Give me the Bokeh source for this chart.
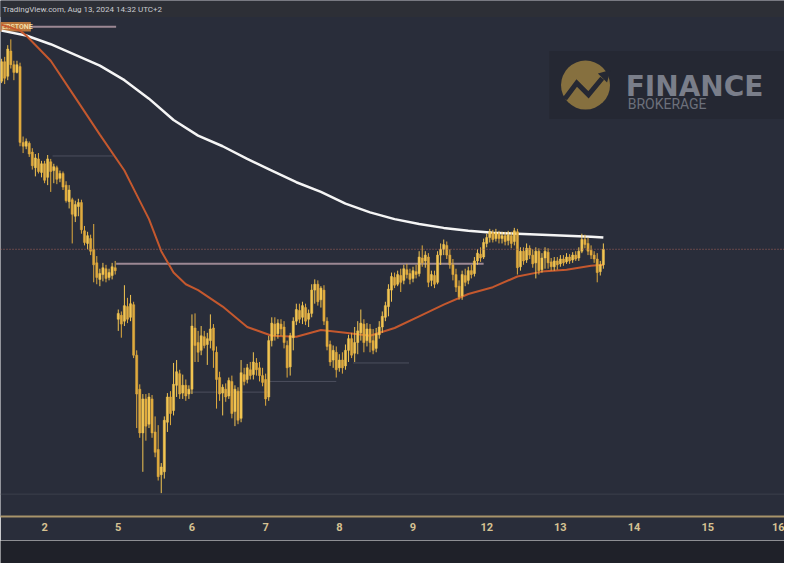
from bokeh.plotting import figure
from bokeh.models import ColumnDataSource, Range1d, FixedTicker, Span
from bokeh.layouts import column
from bokeh.core.properties import value
from bokeh.embed import file_html
from bokeh.resources import INLINE

# Hourly candles (UTC+2), hour 0 = Aug 1 10:00, weekend skipped, last = Aug 13 14:00
opens = [517, 537, 522, 548, 534, 526, 532,
         454, 450, 453, 444, 428, 437, 423, 432, 418, 434, 425, 428, 417, 422, 410, 393, 395, 378, 388, 392, 363, 350, 355, 344, 330, 313, 318, 324, 315, 317, 325,
         272, 276, 270, 285, 274, 287, 235, 200, 155, 190, 164, 190, 156, 138, 112, 115, 166, 192, 178, 204, 216, 196, 204, 195,
         200, 263, 248, 240, 254, 246, 250, 263, 238, 212, 196, 200, 193, 208, 177, 198, 170, 215, 210, 220, 215, 227, 222, 214,
         210, 192, 250, 267, 257, 267, 264, 245, 223, 253, 270, 281, 274, 284, 272, 278, 302, 308, 292, 302, 270, 246, 230, 238,
         222, 230, 224, 240, 252, 237, 248, 258, 267, 250, 262, 250, 242, 256, 264, 274, 285, 302, 315, 308, 317, 312, 323, 319,
         314, 321, 319, 335, 332, 336, 312, 317, 310, 338, 344, 348, 338, 328, 318, 306, 296, 317, 312, 322, 319, 332, 339, 336,
         350, 356, 361, 355, 360, 355, 358, 353, 358, 352, 362, 326, 342, 333, 345, 338, 330, 342, 323, 335, 341, 331, 326, 332,
         329, 334, 331, 336, 333, 338, 335, 342, 354, 350, 343, 338, 334, 321, 328]
closes = [537, 520, 550, 534, 526, 534, 454,
          450, 455, 442, 430, 438, 424, 432, 415, 437, 424, 429, 416, 422, 408, 394, 405, 380, 390, 392, 364, 351, 358, 342, 328, 315, 319, 325, 314, 320, 326, 322,
          278, 267, 286, 272, 288, 235, 195, 155, 190, 162, 192, 155, 135, 110, 120, 168, 192, 175, 205, 218, 195, 204, 193, 200,
          265, 245, 238, 255, 245, 252, 262, 240, 210, 195, 202, 192, 209, 175, 200, 168, 217, 208, 222, 214, 228, 220, 214, 207,
          190, 250, 268, 255, 268, 262, 248, 222, 255, 270, 282, 272, 286, 270, 278, 302, 308, 290, 304, 270, 244, 228, 240, 220,
          230, 222, 240, 252, 235, 248, 260, 268, 248, 262, 248, 240, 257, 264, 275, 286, 303, 316, 307, 318, 310, 324, 318, 313,
          322, 318, 336, 330, 338, 310, 318, 308, 338, 344, 349, 338, 328, 318, 305, 295, 318, 310, 322, 318, 332, 340, 335, 351,
          356, 362, 354, 361, 355, 358, 352, 359, 350, 363, 325, 342, 332, 345, 338, 329, 342, 322, 335, 342, 330, 326, 332, 328,
          334, 330, 336, 332, 338, 334, 342, 354, 349, 342, 338, 334, 320, 328, 344]
highs = [540, 542, 554, 560, 538, 538, 536,
         460, 458, 455, 448, 442, 443, 435, 435, 441, 437, 432, 430, 425, 424, 414, 410, 397, 394, 396, 395, 368, 362, 359, 370, 337, 324, 330, 328, 324, 330, 332,
         282, 280, 307, 294, 297, 290, 240, 205, 195, 195, 196, 194, 172, 163, 124, 172, 196, 198, 227, 230, 220, 215, 210, 204,
         277, 278, 260, 265, 260, 258, 277, 267, 244, 218, 205, 206, 212, 214, 204, 202, 230, 222, 226, 228, 238, 232, 228, 222,
         216, 255, 274, 274, 272, 272, 270, 250, 258, 274, 288, 288, 290, 288, 282, 308, 313, 312, 306, 307, 274, 250, 245, 244,
         236, 238, 246, 256, 258, 264, 270, 282, 272, 268, 267, 262, 263, 270, 280, 290, 308, 320, 320, 322, 324, 328, 329, 324,
         326, 328, 342, 348, 342, 340, 322, 322, 342, 350, 354, 352, 344, 334, 324, 312, 322, 324, 326, 328, 336, 344, 346, 355,
         360, 365, 364, 365, 363, 362, 362, 363, 362, 366, 365, 346, 346, 350, 348, 344, 346, 345, 340, 346, 345, 335, 336, 336,
         338, 338, 340, 339, 341, 342, 346, 360, 359, 356, 348, 342, 340, 332, 350]
lows = [515, 514, 518, 530, 518, 525, 450,
        443, 447, 439, 426, 419, 422, 418, 412, 410, 403, 412, 411, 413, 405, 392, 386, 350, 372, 378, 360, 348, 344, 338, 310, 308, 306, 311, 310, 312, 313, 318,
        260, 253, 265, 268, 270, 232, 160, 150, 115, 147, 160, 150, 130, 106, 93, 108, 156, 163, 173, 192, 190, 190, 188, 190,
        195, 228, 228, 235, 242, 225, 242, 222, 180, 188, 173, 187, 190, 170, 162, 164, 166, 204, 206, 210, 210, 214, 208, 203,
        183, 188, 244, 250, 252, 255, 242, 212, 214, 240, 266, 268, 267, 266, 264, 274, 288, 286, 284, 266, 240, 224, 222, 212,
        218, 216, 220, 228, 232, 228, 236, 250, 238, 244, 238, 236, 238, 252, 258, 270, 275, 290, 304, 306, 300, 308, 314, 308,
        310, 314, 316, 326, 325, 305, 306, 304, 308, 328, 338, 334, 324, 312, 300, 292, 292, 306, 308, 314, 316, 328, 331, 334,
        346, 351, 351, 352, 350, 350, 348, 348, 345, 348, 318, 322, 328, 330, 334, 325, 314, 318, 320, 324, 324, 322, 322, 323,
        326, 327, 329, 329, 330, 332, 332, 340, 345, 338, 334, 330, 310, 317, 324]
hours = list(range(len(opens)))

# Day labels on the time axis (hour index of each day start)
tick_hours = [14, 38, 62, 86, 110, 134, 158, 182, 206, 230, 254]
tick_labels = ["2", "5", "6", "7", "8", "9", "12", "13", "14", "15", "16"]

# Moving averages
ma200_hours = [0, 8, 16, 24, 32, 40, 48, 56, 64, 72, 80, 88, 96, 104, 112, 120, 128, 136, 144, 152, 160, 168, 176, 184, 192, 196]
ma200_vals = [569, 564, 555, 544, 533, 518, 499, 477, 461, 450, 437, 425, 413, 403, 391, 382, 375, 370, 366, 363, 361, 360, 359, 358, 357, 356]
ma50_hours = [0, 6, 8, 16, 24, 32, 40, 44, 48, 52, 56, 60, 64, 72, 80, 88, 96, 104, 112, 120, 128, 136, 144, 152, 160, 168, 176, 184, 192, 196]
ma50_vals = [575, 569, 564, 538, 500, 462, 425, 400, 375, 342, 320, 308, 302, 285, 264, 255, 254, 261, 258, 255, 263, 275, 287, 298, 305, 316, 321, 323, 327, 328]

# Horizontal drawn levels: value, start hour, end hour
level_vals = [573, 329, 440, 227, 208, 197]
level_start = [9.2, 37.3, 16.6, 114.5, 86.8, 60.3]
level_end = [37.3, 157.0, 36.4, 132.7, 109.0, 87.4]
level_strong = [True, True, False, False, False, False]
floor_level = 92

BG = "#292d3a"
W, H = 784, 540


def hx(X):
    return (X - 1.13) / 3.133


def vy(Y):
    return 600 - Y


p = figure(width=W, height=H, output_backend="svg", toolbar_location=None, title=None,
           x_range=Range1d(-0.36, 255.0), y_range=Range1d(69, 600),
           y_axis_location=None, min_border_left=0, min_border_right=0,
           min_border_top=0, min_border_bottom=24,
           background_fill_color=BG, border_fill_color=BG, outline_line_color=None)
p.xgrid.visible = False
p.ygrid.visible = False

ax = p.xaxis[0]
ax.ticker = FixedTicker(ticks=tick_hours)
ax.major_label_overrides = {h: t for h, t in zip(tick_hours, tick_labels)}
ax.axis_line_color = "#a8946a"
ax.axis_line_width = 2
ax.major_tick_line_color = None
ax.minor_tick_line_color = None
ax.major_tick_out = 0
ax.major_tick_in = 0
ax.major_label_standoff = 6
ax.major_label_text_color = "#d6c292"
ax.major_label_text_font = "Roboto"
ax.major_label_text_font_style = "bold"
ax.major_label_text_font_size = "11px"

# header band
p.quad(left=[-5], right=[260], bottom=[vy(17)], top=[600], fill_color="#2d2f36", line_color=None)
p.text(x=[hx(2)], y=[vy(9)], text=["TradingView.com, Aug 13, 2024 14:32 UTC+2"],
       text_font=value("Roboto"), text_font_size="8px", text_color="#c9cbd1",
       text_baseline="middle", text_align="left")

# floor and levels
p.add_layout(Span(location=floor_level, dimension="width", line_color="#3b3f4c", line_width=1))
for v, s, e, strong in zip(level_vals, level_start, level_end, level_strong):
    p.line(x=[s, e], y=[v, v], line_color="#9c8894" if strong else "#4c4f5e",
           line_width=2 if strong else 1)
p.add_layout(Span(location=closes[-1], dimension="width", line_color="#a8665c",
                  line_width=1, line_dash="1 2"))

# label box
p.quad(left=[-1], right=[hx(31)], bottom=[vy(32)], top=[vy(22)], fill_color="#b9763c", line_color=None)
p.text(x=[hx(1.5)], y=[vy(27)], text=["ERSTONE"], text_font=value("Roboto"),
       text_font_size="7px", text_font_style="bold", text_color="#f4dca6",
       text_baseline="middle", text_align="left")

# logo
p.quad(left=[hx(560)], right=[260], bottom=[vy(122)], top=[vy(52)], fill_color="#252833",
       fill_alpha=0.9, line_color=None)
p.scatter(x=[hx(597)], y=[vy(87)], size=49, marker="circle", fill_color="#86703f", line_color=None)
p.line(x=[hx(576), hx(588), hx(600), hx(614)], y=[vy(101), vy(85), vy(97), vy(80)],
       line_width=5, line_color="#252833", line_join="miter")
p.scatter(x=[hx(617)], y=[vy(77)], size=13, marker="triangle", angle=-0.785,
          fill_color="#252833", line_color=None)
p.text(x=[hx(638)], y=[vy(89)], text=["FINANCE"], text_font=value("DejaVu Sans"),
       text_font_size="28px", text_font_style="bold", text_color="#7a7e8a",
       text_baseline="alphabetic", text_align="left")
p.text(x=[hx(640)], y=[vy(107)], text=["BROKERAGE"], text_font=value("Roboto"),
       text_font_size="14px", text_color="#6c707b", text_baseline="alphabetic", text_align="left")

# moving averages
p.line(ma200_hours, ma200_vals, line_color="#f5f5f5", line_width=2.5)
p.line(ma50_hours, ma50_vals, line_color="#c4582e", line_width=2)

# candles
colors = ["#f2c552" if c >= o else "#e0ab3e" for o, c in zip(opens, closes)]
src = ColumnDataSource(dict(x=hours, o=opens, c=closes, h=highs, l=lows, col=colors))
p.segment(x0="x", y0="l", x1="x", y1="h", source=src, line_color="col", line_width=1)
p.vbar(x="x", width=0.7, top="o", bottom="c", source=src, fill_color="col", line_color="col", line_width=0.5)

strip = figure(width=W, height=23, output_backend="svg", toolbar_location=None, title=None,
               x_axis_location=None, y_axis_location=None, min_border=0,
               background_fill_color="#1f2129", border_fill_color="#1f2129", outline_line_color=None)
strip.xgrid.visible = False
strip.ygrid.visible = False

layout = column(p, strip, spacing=0)
open("out.html", "w").write(file_html(layout, INLINE))
